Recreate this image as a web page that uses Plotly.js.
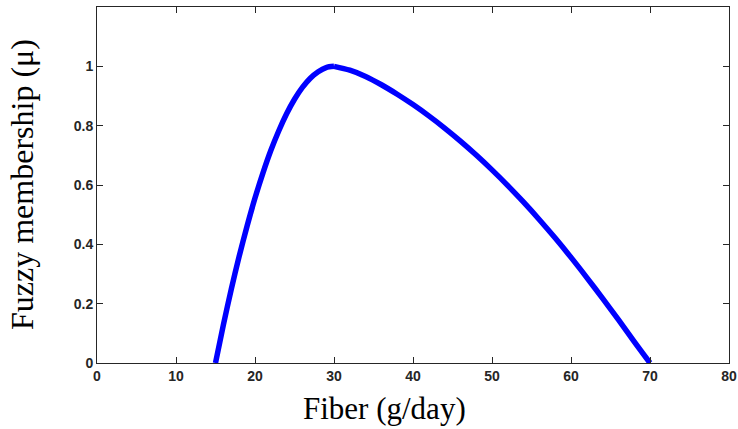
<!DOCTYPE html>
<html>
<head>
<meta charset="utf-8">
<script src="https://cdn.plot.ly/plotly-3.0.1.min.js"></script>
<style>html,body{margin:0;padding:0;background:#fff;}#chart{width:738px;height:429px;}</style>
</head>
<body>
<div id="chart"></div>
<script>
// Fiber intake (g/day) and fuzzy membership values
const fiberRise = [15, 16, 17, 18, 19, 20, 21, 22, 23, 24, 25, 26, 27, 28, 29, 30];
const muRise    = [0, 0.129, 0.249, 0.36, 0.462, 0.556, 0.64, 0.716, 0.782, 0.84, 0.889, 0.929, 0.96, 0.982, 0.996, 1.0];
const fiberFall = [30, 32, 34, 36, 38, 40, 42, 44, 46, 48, 50, 52, 54, 56, 58, 60, 62, 64, 66, 68, 70];
const muFall    = [1.0, 0.987, 0.966, 0.938, 0.906, 0.871, 0.833, 0.792, 0.748, 0.701, 0.651, 0.598, 0.542, 0.483, 0.421, 0.356, 0.288, 0.218, 0.146, 0.072, 0];
const xTicks = [0, 10, 20, 30, 40, 50, 60, 70, 80];
const yTicks = [0, 0.2, 0.4, 0.6, 0.8, 1];
const xLabel = 'Fiber (g/day)';
const yLabel = 'Fuzzy membership (μ)';

const axisCommon = {
  showline: true, linecolor: '#262626', linewidth: 1, mirror: 'ticks',
  ticks: 'inside', ticklen: 6, tickcolor: '#262626', tickwidth: 1,
  showgrid: false, zeroline: false,
  tickfont: {family: 'Liberation Sans, Arial, sans-serif', size: 14, color: '#262626', weight: 'bold'}
};

const lineStyle = {color: '#0000FF', width: 5.5, shape: 'spline', smoothing: 0.8};
const data = [
  {x: fiberRise, y: muRise, type: 'scatter', mode: 'lines', line: lineStyle, hoverinfo: 'skip'},
  {x: fiberFall, y: muFall, type: 'scatter', mode: 'lines', line: lineStyle, hoverinfo: 'skip'}
];

const layout = {
  width: 738, height: 429,
  margin: {l: 97, r: 9, t: 7, b: 66},
  paper_bgcolor: '#ffffff', plot_bgcolor: '#ffffff',
  showlegend: false,
  xaxis: Object.assign({}, axisCommon, {range: [0, 80], tickvals: xTicks, ticktext: xTicks.map(String)}),
  yaxis: Object.assign({}, axisCommon, {range: [0, 1.2], tickvals: yTicks, ticktext: yTicks.map(String)}),
  annotations: [
    {text: xLabel, xref: 'paper', yref: 'paper', x: (384 - 97) / 632, y: -(408 - 363) / 356,
     xanchor: 'center', yanchor: 'middle', showarrow: false,
     font: {family: 'Liberation Serif, Times New Roman, serif', size: 31, color: '#000000'}},
    {text: yLabel, xref: 'paper', yref: 'paper', x: -(97 - 22) / 632, y: 0.5,
     xanchor: 'center', yanchor: 'middle', textangle: -90, showarrow: false,
     font: {family: 'Liberation Serif, Times New Roman, serif', size: 32, color: '#000000'}}
  ]
};

Plotly.newPlot('chart', data, layout, {displayModeBar: false, staticPlot: true});
</script>
</body>
</html>
